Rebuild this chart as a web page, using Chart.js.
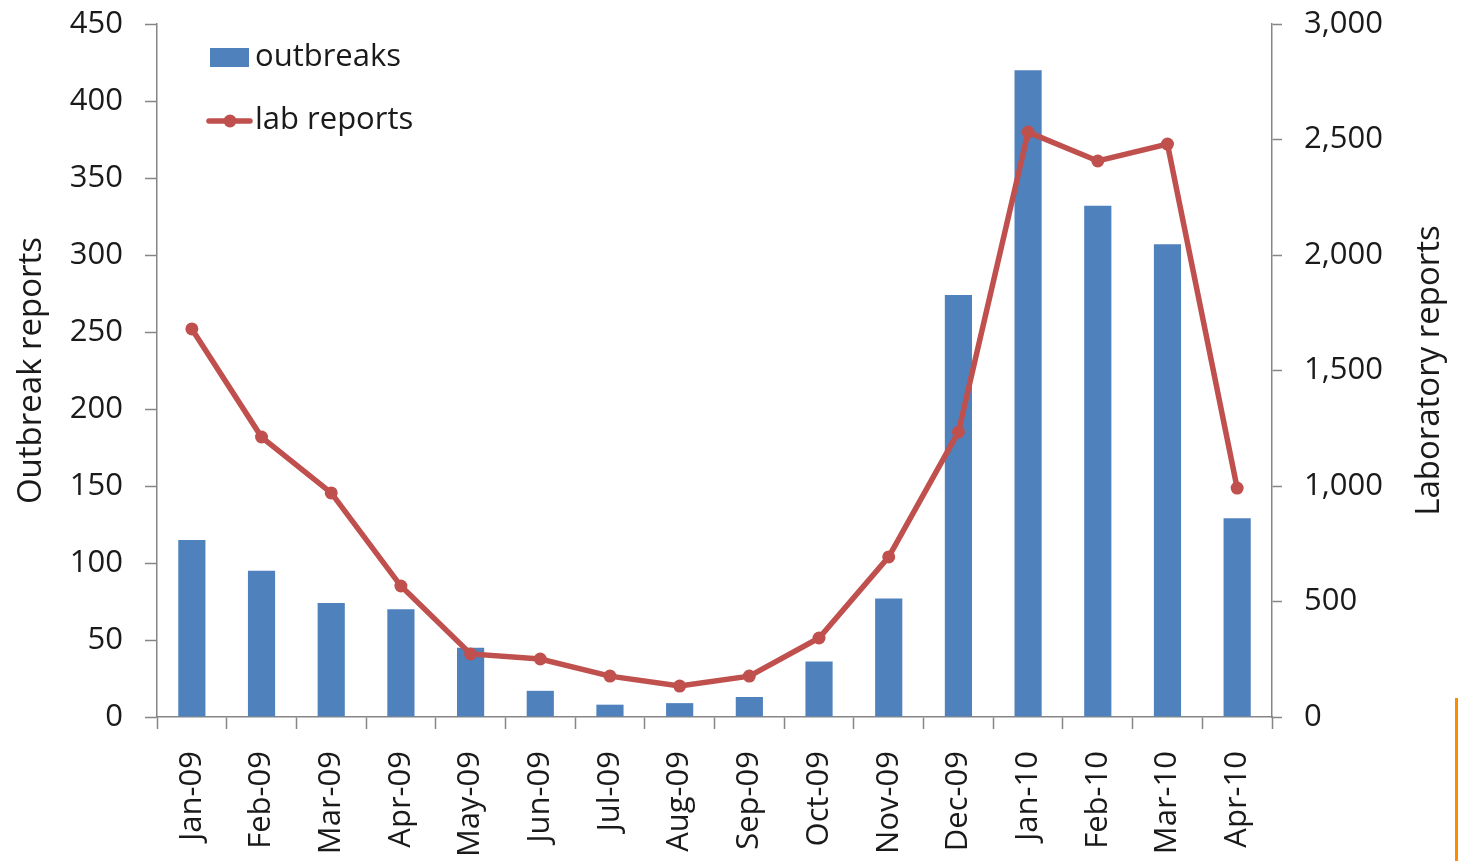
<!DOCTYPE html>
<html>
<head>
<meta charset="utf-8">
<script src="https://cdn.jsdelivr.net/npm/chart.js@4.4.1/dist/chart.umd.min.js"></script>
<style>
  html, body { margin: 0; padding: 0; background: #fff; }
  #wrap { position: relative; width: 1458px; height: 861px; overflow: hidden; }
  #edge { position: absolute; left: 1455px; top: 698px; width: 3px; height: 163px; background: #ff8c00; }
</style>
</head>
<body>
<div id="wrap">
  <canvas id="chart" width="1458" height="861"></canvas>
  <div id="edge"></div>
</div>
<script>
const months = ['Jan-09', 'Feb-09', 'Mar-09', 'Apr-09', 'May-09', 'Jun-09', 'Jul-09', 'Aug-09',
                'Sep-09', 'Oct-09', 'Nov-09', 'Dec-09', 'Jan-10', 'Feb-10', 'Mar-10', 'Apr-10'];
const outbreaks = [115, 95, 74, 70, 45, 17, 8, 9, 13, 36, 77, 274, 420, 332, 307, 129];
const labReports = [1680, 1212, 970, 567, 273, 251, 177, 134, 177, 342, 693, 1234, 2532, 2407, 2480, 991];

const blue = '#4f81bd';
const red = '#c0504d';
const axisGrey = '#868686';
const textCol = '#1a1a1a';
const fontFam = '"Open Sans", sans-serif';

// legend inside the plot + right axis title (reads bottom to top like the left one)
const extras = {
  id: 'extras',
  afterDraw(chart) {
    const ctx = chart.ctx;
    const area = chart.chartArea;
    ctx.save();
    ctx.fillStyle = blue;
    ctx.fillRect(210, 48, 39, 19);
    ctx.strokeStyle = red;
    ctx.lineWidth = 5.5;
    ctx.lineCap = 'round';
    ctx.beginPath();
    ctx.moveTo(209, 121);
    ctx.lineTo(250, 121);
    ctx.stroke();
    ctx.fillStyle = red;
    ctx.beginPath();
    ctx.arc(230, 121, 6.5, 0, Math.PI * 2);
    ctx.fill();
    ctx.fillStyle = textCol;
    ctx.font = '31px ' + fontFam;
    ctx.textBaseline = 'middle';
    ctx.fillText('outbreaks', 255, 57);
    ctx.fillText('lab reports', 255, 120);

    ctx.translate(1430, (area.top + area.bottom) / 2);
    ctx.rotate(-Math.PI / 2);
    ctx.textAlign = 'center';
    ctx.font = '33px ' + fontFam;
    ctx.fillText('Laboratory reports', 0, 0);
    ctx.restore();
  }
};

new Chart(document.getElementById('chart'), {
  data: {
    labels: months,
    datasets: [
      {
        type: 'line',
        label: 'lab reports',
        data: labReports,
        yAxisID: 'y2',
        borderColor: red,
        backgroundColor: red,
        borderWidth: 5.5,
        pointRadius: 6.5,
        pointHoverRadius: 6.5,
        pointBackgroundColor: red,
        pointBorderWidth: 0,
        tension: 0,
        order: 1
      },
      {
        type: 'bar',
        label: 'outbreaks',
        data: outbreaks,
        yAxisID: 'y',
        backgroundColor: blue,
        barPercentage: 0.39,
        categoryPercentage: 1,
        order: 2
      }
    ]
  },
  options: {
    responsive: false,
    animation: false,
    layout: { padding: { top: 24, left: 0, right: 0, bottom: 0 } },
    plugins: {
      legend: { display: false },
      tooltip: { enabled: false }
    },
    scales: {
      x: {
        grid: { offset: true, drawOnChartArea: false, color: axisGrey, tickLength: 12, tickWidth: 1.5 },
        border: { color: axisGrey, width: 1.5 },
        ticks: { color: textCol, font: { family: fontFam, size: 31 }, minRotation: 90, maxRotation: 90, padding: 22, autoSkip: false },
        afterFit(s) { s.height = 144; s.paddingLeft = 0; s.paddingRight = 0; }
      },
      y: {
        position: 'left',
        min: 0,
        max: 450,
        ticks: { stepSize: 50, color: textCol, font: { family: fontFam, size: 31 }, padding: 22 },
        grid: { drawOnChartArea: false, color: axisGrey, tickLength: 12, tickWidth: 1.5 },
        border: { color: axisGrey, width: 1.5 },
        title: { display: true, text: 'Outbreak reports', color: textCol, font: { family: fontFam, size: 33 }, padding: { top: 12, bottom: 0 } },
        afterFit(s) { s.width = 157; s.paddingTop = 0; s.paddingBottom = 0; }
      },
      y2: {
        position: 'right',
        min: 0,
        max: 3000,
        ticks: {
          stepSize: 500, color: textCol, font: { family: fontFam, size: 31 }, padding: 22,
          callback: v => v.toLocaleString('en-US')
        },
        grid: { drawOnChartArea: false, color: axisGrey, tickLength: 10, tickWidth: 1.5 },
        border: { color: axisGrey, width: 1.5 },
        afterFit(s) { s.width = 186; s.paddingTop = 0; s.paddingBottom = 0; }
      }
    }
  },
  plugins: [extras]
});
</script>
</body>
</html>
